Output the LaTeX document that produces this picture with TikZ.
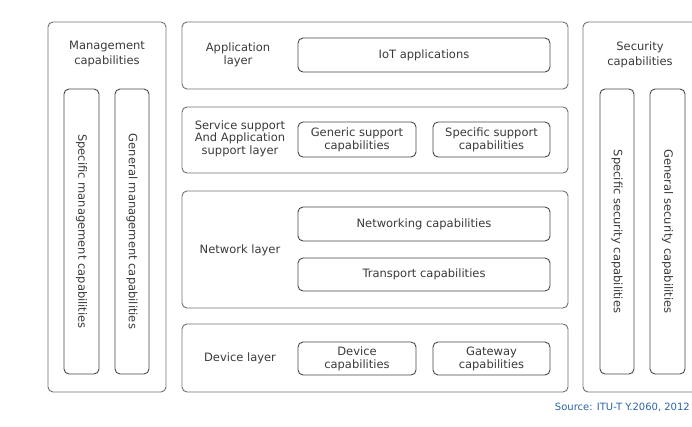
\documentclass[tikz,border=0pt]{standalone}
\usepackage{fontspec}
\setmainfont{DejaVu Sans}
\definecolor{txt}{HTML}{3A3A3A}
\definecolor{outerc}{HTML}{707070}
\definecolor{innerc}{HTML}{484848}
\definecolor{srcblue}{HTML}{2A62A8}
\tikzset{
  outerbox/.style={draw=outerc, line width=0.9pt, rounded corners=5pt, inner sep=0pt},
  innerbox/.style={draw=innerc, line width=0.9pt, rounded corners=5pt, inner sep=0pt, text=txt, align=center, font=\fontsize{11.5}{13}\selectfont},
  lbl/.style={text=txt, align=center, inner sep=0pt, font=\fontsize{11.5}{13}\selectfont},
  vtext/.style={text=txt, inner sep=0pt, rotate=-90, font=\fontsize{11.5}{13}\selectfont}
}
\begin{document}
\begin{tikzpicture}[x=1pt,y=-1pt]
\useasboundingbox (0,0) rectangle (692,427);
\clip (0,0) rectangle (692,427);
% Management column
\node[outerbox, minimum width=118pt, minimum height=370pt] (mgmt) at (107,207) {};
\node[lbl, font=\fontsize{11.5}{15}\selectfont] (mgmtlbl) at (107,54.5) {Management\\capabilities};
\node[innerbox, minimum width=35pt, minimum height=285pt] (specmgmt) at (81.5,231.5) {};
\node[vtext] (specmgmttxt) at (specmgmt.center) {Specific management capabilities};
\node[innerbox, minimum width=34pt, minimum height=285pt] (genmgmt) at (132,231.5) {};
\node[vtext] (genmgmttxt) at (genmgmt.center) {General management capabilities};
% Security column
\node[outerbox, minimum width=118pt, minimum height=370pt] (sec) at (642,207) {};
\node[lbl, font=\fontsize{11.5}{15}\selectfont] (seclbl) at (640,54.5) {Security\\capabilities};
\node[innerbox, minimum width=34pt, minimum height=285pt] (specsec) at (617,231.5) {};
\node[vtext] (specsectxt) at (specsec.center) {Specific security capabilities};
\node[innerbox, minimum width=35pt, minimum height=285pt] (gensec) at (667.5,231.5) {};
\node[vtext] (gensectxt) at (gensec.center) {General security capabilities};
% Application layer
\node[outerbox, minimum width=386pt, minimum height=67pt] (app) at (375,55.5) {};
\node[lbl] (applbl) at (238,55) {Application\\layer};
\node[innerbox, minimum width=252pt, minimum height=34pt] (iot) at (424,55) {IoT applications};
% Service support layer
\node[outerbox, minimum width=386pt, minimum height=66pt] (svc) at (375,140) {};
\node[lbl, font=\fontsize{11.5}{12.5}\selectfont] (svclbl) at (240,138.5) {Service support\\And Application\\support layer};
\node[innerbox, minimum width=118pt, minimum height=35pt] (generic) at (357,139.5) {Generic support\\capabilities};
\node[innerbox, minimum width=117pt, minimum height=35pt] (specific) at (491.5,139.5) {Specific support\\capabilities};
% Network layer
\node[outerbox, minimum width=386pt, minimum height=117pt] (net) at (375,249.5) {};
\node[lbl] (netlbl) at (240,250) {Network layer};
\node[innerbox, minimum width=252pt, minimum height=34pt] (networking) at (424,224) {Networking capabilities};
\node[innerbox, minimum width=252pt, minimum height=33pt] (transport) at (424,274.5) {Transport capabilities};
% Device layer
\node[outerbox, minimum width=386pt, minimum height=68pt] (dev) at (375,358) {};
\node[lbl] (devlbl) at (240,358) {Device layer};
\node[innerbox, minimum width=118pt, minimum height=33pt] (devcap) at (357,358.5) {Device\\capabilities};
\node[innerbox, minimum width=117pt, minimum height=33pt] (gw) at (491.5,358.5) {Gateway\\capabilities};
% Source
\node[text=srcblue, anchor=east, inner sep=0pt, font=\fontsize{10}{12}\selectfont] (src) at (690,407) {Source: ITU-T Y.2060, 2012};
\end{tikzpicture}
\end{document}
